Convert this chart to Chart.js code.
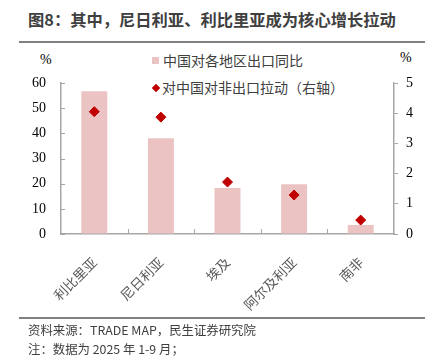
<!DOCTYPE html>
<html lang="zh">
<head>
<meta charset="UTF-8">
<title>图8</title>
<style>
    body { margin: 0; width: 437px; height: 358px; position: relative; background: #fff; overflow: hidden;
           font-family: "Noto Sans CJK SC", sans-serif; }
    #title { position: absolute; left: 28px; top: 7px; font-size: 16.3px; font-weight: bold; color: #404040; white-space: nowrap; }
    .rule { position: absolute; left: 19px; width: 406px; height: 2px; background: #808080; }
    .src { position: absolute; left: 28px; font-size: 12.4px; color: #404040; white-space: nowrap; }
    .unit { position: absolute; font-family: "Liberation Serif", serif; font-size: 14px; color: #000; }
    #legend { position: absolute; left: 152px; top: 48px; font-size: 14px; color: #404040; }
    #legend div { height: 27px; line-height: 24px; white-space: nowrap; }
    .sq { display: inline-block; width: 7px; height: 7px; background: #ecc3c3; margin-right: 4px; margin-bottom: 2px; }
    .dm { display: inline-block; width: 6px; height: 6px; background: #c00000; transform: rotate(45deg); margin: 0 3px 2px 1px; }
    canvas { position: absolute; left: 0; top: 0; }
</style>
<script src="https://cdn.jsdelivr.net/npm/chart.js"></script>
</head>
<body>
<div id="title">图8：其中，尼日利亚、利比里亚成为核心增长拉动</div>
<div class="rule" style="top:41px"></div>
<div class="unit" style="left:40px;top:52px">%</div>
<div class="unit" style="left:400px;top:50px">%</div>
<div id="legend">
    <div><span class="sq"></span>中国对各地区出口同比</div>
    <div><span class="dm"></span>对中国对非出口拉动（右轴）</div>
</div>
<canvas id="chart" width="437" height="358"></canvas>
<div class="rule" style="top:317px"></div>
<div class="src" style="top:321px">资料来源：TRADE MAP，民生证券研究院</div>
<div class="src" style="top:340px">注：数据为 2025 年 1-9 月；</div>
<script>
    const countries = ['利比里亚', '尼日利亚', '埃及', '阿尔及利亚', '南非'];
    const exportGrowth = [56.7, 38.0, 18.3, 19.8, 3.6];
    const contribution = [4.05, 3.87, 1.72, 1.29, 0.46];

    const axisColor = '#a6a6a6';
    const numFont = { family: 'Liberation Serif', size: 14 };

    // inner tick marks on the bottom and left axes
    const innerTicks = {
        id: 'innerTicks',
        afterDraw(chart) {
            const ctx = chart.ctx;
            const x = chart.scales.x, y = chart.scales.y;
            ctx.save();
            ctx.strokeStyle = axisColor;
            ctx.lineWidth = 1;
            ctx.beginPath();
            const n = countries.length;
            for (let i = 1; i < n; i++) {
                const px = Math.round(x.left + i * (x.right - x.left) / n) + 0.5;
                ctx.moveTo(px, y.bottom);
                ctx.lineTo(px, y.bottom - 5);
            }
            y.ticks.forEach((t, i) => {
                const py = Math.round(y.getPixelForTick(i)) + 0.5;
                ctx.moveTo(x.left, py);
                ctx.lineTo(x.left + 4, py);
            });
            ctx.stroke();
            ctx.restore();
        }
    };

    new Chart(document.getElementById('chart'), {
        data: {
            labels: countries,
            datasets: [
                {
                    type: 'line',
                    label: '对中国对非出口拉动（右轴）',
                    data: contribution,
                    yAxisID: 'y1',
                    showLine: false,
                    pointStyle: 'rectRot',
                    pointRadius: 5,
                    pointBackgroundColor: '#c00000',
                    pointBorderColor: '#c00000'
                },
                {
                    type: 'bar',
                    label: '中国对各地区出口同比',
                    data: exportGrowth,
                    yAxisID: 'y',
                    backgroundColor: '#ecc3c3',
                    categoryPercentage: 1,
                    barPercentage: 0.39
                }
            ]
        },
        plugins: [innerTicks],
        options: {
            responsive: false,
            animation: false,
            layout: { padding: { left: 31, right: 13, top: 83, bottom: 44 } },
            plugins: { legend: { display: false }, tooltip: { enabled: false } },
            scales: {
                x: {
                    grid: { display: false },
                    border: { color: axisColor, width: 1.5 },
                    ticks: { maxRotation: 45, minRotation: 45, color: '#595959',
                             font: { family: 'Noto Sans CJK SC', size: 13.5 }, padding: 12 },
                    afterFit: s => { s.height = 80; }
                },
                y: {
                    position: 'left',
                    min: 0, max: 60,
                    ticks: { stepSize: 10, color: '#000', font: numFont, padding: 15 },
                    grid: { drawOnChartArea: false, drawTicks: false },
                    border: { color: axisColor, width: 1.5 },
                    afterFit: s => { s.width = 30; }
                },
                y1: {
                    position: 'right',
                    min: 0, max: 5,
                    ticks: { stepSize: 1, color: '#000', font: numFont, padding: 8 },
                    grid: { drawOnChartArea: false, color: axisColor, tickLength: 4 },
                    border: { color: axisColor, width: 1.5 },
                    afterFit: s => { s.width = 30; }
                }
            }
        }
    });
</script>
</body>
</html>
